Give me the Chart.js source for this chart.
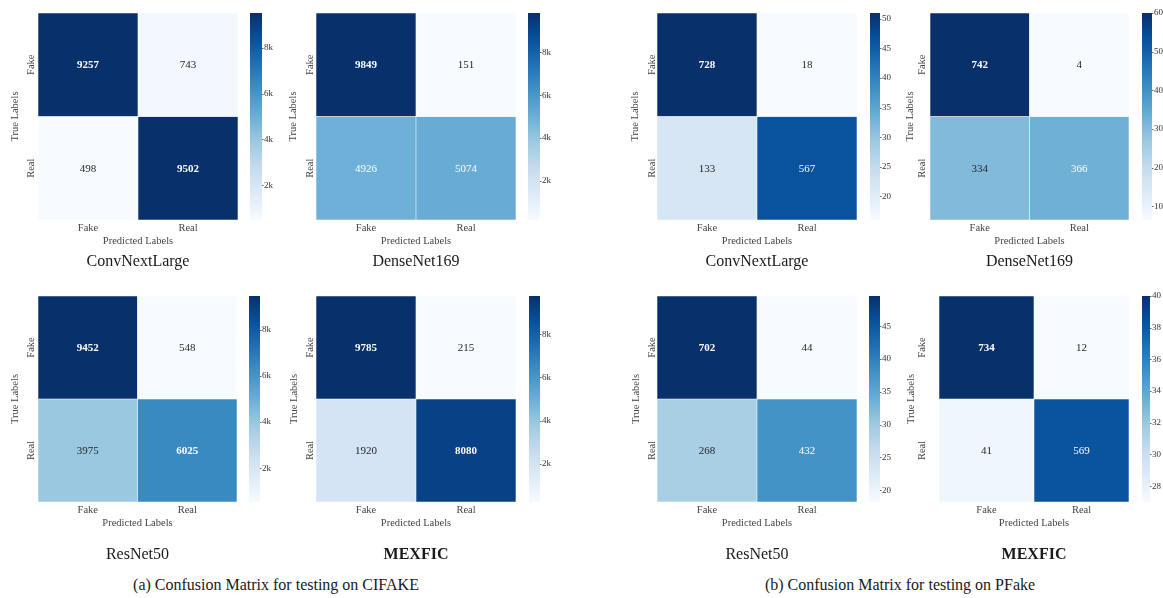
<!DOCTYPE html>
<html>
<head>
<meta charset="utf-8">
<script src="https://cdn.jsdelivr.net/npm/chart.js@4.4.1/dist/chart.umd.min.js"></script>
<style>
  body { margin: 0; width: 1163px; height: 598px; overflow: hidden; background: #fff; position: relative; }
  canvas { position: absolute; }
  .caption { position: absolute; top: 574px; font: 16px 'Liberation Serif', serif; color: #1a1a1a; transform: translateX(-50%); white-space: nowrap; line-height: 22px; }
</style>
</head>
<body>
<div class="caption" style="left:276px">(a) Confusion Matrix for testing on CIFAKE</div>
<div class="caption" style="left:900px">(b) Confusion Matrix for testing on PFake</div>
<script>
// class labels (rows = true, columns = predicted)
const labels = ['Fake', 'Real'];

// confusion matrices, CIFAKE
const cifakeConvNext = [[9257, 743], [498, 9502]];
const cifakeDenseNet = [[9849, 151], [4926, 5074]];
const cifakeResNet = [[9452, 548], [3975, 6025]];
const cifakeMexfic = [[9785, 215], [1920, 8080]];

// confusion matrices, PFake
const pfakeConvNext = [[728, 18], [133, 567]];
const pfakeDenseNet = [[742, 4], [334, 366]];
const pfakeResNet = [[702, 44], [268, 432]];
const pfakeMexfic = [[734, 12], [41, 569]];

// colorbar ticks and ranges as printed in the figure
const kTicks = [2000, 4000, 6000, 8000];
const pfConvNextTicks = [20, 25, 30, 35, 40, 45, 50];
const pfDenseNetTicks = [10, 20, 30, 40, 50, 60];
const pfResNetTicks = [20, 25, 30, 35, 40, 45];
const pfMexficTicks = [28, 30, 32, 34, 36, 38, 40];
const pfConvNextRange = [16, 51];
const pfDenseNetRange = [6.5, 60];
const pfResNetRange = [18.2, 49.6];
const pfMexficRange = [27, 40];

const blues = ['#f7fbff', '#deebf7', '#c6dbef', '#9ecae1', '#6baed6', '#4292c6', '#2171b5', '#08519c', '#08306b'];

function hexToRgb(h) {
  return [parseInt(h.slice(1, 3), 16), parseInt(h.slice(3, 5), 16), parseInt(h.slice(5, 7), 16)];
}
function bluesAt(t) {
  t = Math.max(0, Math.min(1, t));
  const p = t * (blues.length - 1);
  const i = Math.min(Math.floor(p), blues.length - 2);
  const f = p - i;
  const a = hexToRgb(blues[i]), b = hexToRgb(blues[i + 1]);
  const c = a.map((v, k) => Math.round(v + (b[k] - v) * f));
  return `rgb(${c[0]}, ${c[1]}, ${c[2]})`;
}
// the printed figure is a bit darker in the upper half of the scale
function boost(t) {
  return t > 0.5 ? Math.min(1, 0.5 + (t - 0.5) * 1.35) : t;
}

const rows = [
  { y0: 0, top: 13, bottom: 220, titlePad: 2.4 },
  { y0: 283, top: 296, bottom: 502, titlePad: 13.4 }
];

const panels = [
  { m: cifakeConvNext, name: 'ConvNextLarge', ticks: kTicks, range: null, boldAbove: 0.6, row: 0, titleX: 15, tickX: 31, hx: 38, hr: 238, cbL: 250, cbR: 262 },
  { m: cifakeDenseNet, name: 'DenseNet169', ticks: kTicks, range: null, boldAbove: 0.6, row: 0, titleX: 293, tickX: 310, hx: 316, hr: 516, cbL: 528, cbR: 540 },
  { m: pfakeConvNext, name: 'ConvNextLarge', ticks: pfConvNextTicks, range: pfConvNextRange, boldAbove: 0.9, row: 0, titleX: 635, tickX: 652, hx: 657, hr: 857, cbL: 870, cbR: 880 },
  { m: pfakeDenseNet, name: 'DenseNet169', ticks: pfDenseNetTicks, range: pfDenseNetRange, boldAbove: 0.9, row: 0, titleX: 910, tickX: 922, hx: 930, hr: 1129, cbL: 1142, cbR: 1152 },
  { m: cifakeResNet, name: 'ResNet50', ticks: kTicks, range: null, boldAbove: 0.6, row: 1, titleX: 15, tickX: 31, hx: 38, hr: 237, cbL: 249, cbR: 260 },
  { m: cifakeMexfic, name: 'MEXFIC', bold: true, ticks: kTicks, range: null, boldAbove: 0.6, row: 1, titleX: 294, tickX: 310, hx: 316, hr: 516, cbL: 529, cbR: 540 },
  { m: pfakeResNet, name: 'ResNet50', ticks: pfResNetTicks, range: pfResNetRange, boldAbove: 0.9, row: 1, titleX: 636, tickX: 652, hx: 657, hr: 857, cbL: 869, cbR: 880 },
  { m: pfakeMexfic, name: 'MEXFIC', bold: true, ticks: pfMexficTicks, range: pfMexficRange, boldAbove: 0.9, row: 1, titleX: 911, tickX: 922, hx: 939, hr: 1129, cbL: 1142, cbR: 1150 }
];

Chart.defaults.font.family = "'Liberation Serif', serif";
Chart.defaults.color = '#444';

// numbers inside cells, rotated row labels, colorbar
const heatPlugin = {
  id: 'heat',
  afterDatasetsDraw(chart) {
    const p = chart.options.plugins.heat;
    const ctx = chart.ctx;
    const flat = p.m.flat();
    const lo = Math.min(...flat), hi = Math.max(...flat);
    ctx.save();
    ctx.textAlign = 'center';
    ctx.textBaseline = 'middle';
    chart.data.datasets.forEach((ds, r) => {
      chart.getDatasetMeta(r).data.forEach((el, c) => {
        const v = p.m[r][c];
        const n = (v - lo) / (hi - lo);
        ctx.fillStyle = n > 0.46 ? '#ffffff' : '#262626';
        ctx.font = (n > p.boldAbove ? 'bold ' : '') + "11px 'Liberation Serif'";
        ctx.fillText(String(v), el.x, (el.y + el.base) / 2 + 0.5);
      });
    });
    ctx.restore();
  },
  afterDraw(chart) {
    const p = chart.options.plugins.heat;
    const ctx = chart.ctx;
    const ys = chart.scales.y;
    const cb = chart.scales.cb;
    ctx.save();
    // rotated row labels
    ctx.fillStyle = '#444';
    ctx.font = "10.5px 'Liberation Serif'";
    ctx.textAlign = 'center';
    ctx.textBaseline = 'middle';
    [[labels[0], 1.5], [labels[1], 0.5]].forEach(([t, v]) => {
      ctx.save();
      ctx.translate(p.tickX, ys.getPixelForValue(v));
      ctx.rotate(-Math.PI / 2);
      ctx.fillText(t, 0, 0);
      ctx.restore();
    });
    // colorbar
    const g = ctx.createLinearGradient(0, cb.bottom, 0, cb.top);
    blues.forEach((c, i) => g.addColorStop(i / (blues.length - 1), c));
    ctx.fillStyle = g;
    ctx.fillRect(p.cbL, cb.top, p.cbR - p.cbL, cb.bottom - cb.top);
    ctx.strokeStyle = '#666';
    ctx.lineWidth = 1;
    cb.ticks.forEach(t => {
      const y = Math.round(cb.getPixelForValue(t.value)) + 0.5;
      ctx.beginPath();
      ctx.moveTo(p.cbR, y);
      ctx.lineTo(p.cbR + 1.5, y);
      ctx.stroke();
    });
    ctx.restore();
  }
};

panels.forEach(p => {
  const row = rows[p.row];
  const x0 = p.titleX - 15;
  const w = Math.min(p.cbR + 28, 1163) - x0;
  const padTop = row.top - row.y0;
  const used = (row.bottom - row.y0) + 30 + row.titlePad + 19.2;
  const h = Math.ceil(used + 2);
  const padBottom = h - used;
  const flat = p.m.flat();
  const lo = Math.min(...flat), hi = Math.max(...flat);
  const range = p.range || [lo, hi];

  const canvas = document.createElement('canvas');
  canvas.width = w;
  canvas.height = h;
  canvas.style.left = x0 + 'px';
  canvas.style.top = row.y0 + 'px';
  document.body.appendChild(canvas);

  const cellColors = r => p.m[r].map(v => bluesAt(boost((v - lo) / (hi - lo))));

  new Chart(canvas, {
    type: 'bar',
    data: {
      labels: labels,
      datasets: [
        { label: labels[0], data: [[1, 2], [1, 2]], backgroundColor: cellColors(0) },
        { label: labels[1], data: [[0, 1], [0, 1]], backgroundColor: cellColors(1) }
      ]
    },
    options: {
      responsive: false,
      animation: false,
      devicePixelRatio: 1,
      layout: { padding: { top: padTop, bottom: padBottom, left: 0, right: 0 } },
      datasets: {
        bar: {
          grouped: false,
          barPercentage: 1,
          categoryPercentage: 1,
          borderWidth: 0.6,
          borderColor: 'rgba(255,255,255,0.45)',
          borderSkipped: false
        }
      },
      plugins: {
        legend: { display: false },
        tooltip: { enabled: false },
        title: {
          display: true,
          position: 'bottom',
          fullSize: false,
          text: p.name,
          color: '#1a1a1a',
          font: { size: 16, weight: p.bold ? 'bold' : 'normal' },
          padding: { top: row.titlePad, bottom: 0 }
        },
        heat: {
          m: p.m,
          boldAbove: p.boldAbove,
          tickX: p.tickX - x0,
          cbL: p.cbL - x0,
          cbR: p.cbR - x0
        }
      },
      scales: {
        x: {
          type: 'category',
          grid: { display: false, drawTicks: false },
          border: { display: false },
          ticks: { font: { size: 10.5 }, color: '#444', padding: 1.7 },
          title: { display: true, text: 'Predicted Labels', font: { size: 10.5 }, color: '#444', padding: { top: 0, bottom: 2.7 } },
          afterFit: s => { s.height = 30; }
        },
        y: {
          type: 'linear',
          min: 0,
          max: 2,
          grid: { display: false, drawTicks: false },
          border: { display: false },
          ticks: { display: false },
          title: { display: true, text: 'True Labels', font: { size: 10.5 }, color: '#444', padding: { top: 8.7, bottom: 0 } },
          afterFit: s => { s.width = p.hx - x0; }
        },
        cb: {
          type: 'linear',
          display: true,
          position: 'right',
          min: range[0],
          max: range[1],
          // the tick length carries the gap over the colour bar; no tick padding,
          // so the scale asks for no extra room above the plot
          grid: { display: false, drawTicks: true, tickLength: p.cbR + 2 - p.hr },
          border: { display: false },
          ticks: {
            font: { size: 9 },
            color: '#333',
            padding: 0,
            callback: v => (v >= 1000 ? v / 1000 + 'k' : v)
          },
          afterBuildTicks: s => { s.ticks = p.ticks.map(v => ({ value: v })); },
          afterFit: s => { s.width = w - (p.hr - x0); }
        }
      }
    },
    plugins: [heatPlugin]
  });
});
</script>
</body>
</html>
